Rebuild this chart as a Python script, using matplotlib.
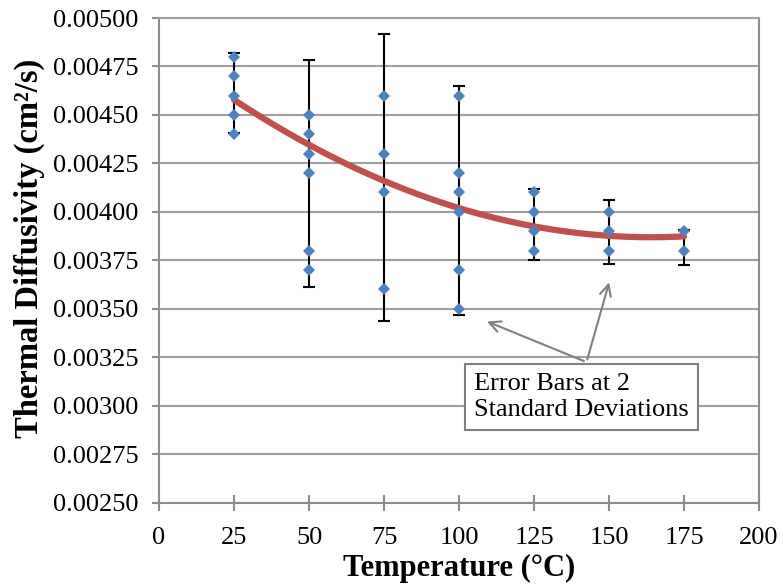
# %%
# Import packages
import numpy as np
import matplotlib
matplotlib.use("Agg")
import matplotlib.pyplot as plt
from matplotlib.ticker import FormatStrFormatter

# %%
# Measured diffusivity values (cm^2/s) at each temperature
temps_25 = [0.0048, 0.0047, 0.0046, 0.0045, 0.0044]
temps_50 = [0.0045, 0.0044, 0.0043, 0.0042, 0.0038, 0.0037]
temps_75 = [0.0046, 0.0043, 0.0041, 0.0036]
temps_100 = [0.0046, 0.0042, 0.0041, 0.0040, 0.0037, 0.0035]
temps_125 = [0.0041, 0.0040, 0.0039, 0.0038]
temps_150 = [0.0040, 0.0039, 0.0038]
temps_175 = [0.0039, 0.0038]

temperatures = [25, 50, 75, 100, 125, 150, 175]
measurements = [temps_25, temps_50, temps_75, temps_100, temps_125, temps_150, temps_175]

# Error bar centres and half-widths (2 standard deviations)
bar_means = [0.004613, 0.004197, 0.004177, 0.004058, 0.003934, 0.003897, 0.003817]
two_sd = [0.000207, 0.000586, 0.000740, 0.000592, 0.000184, 0.000164, 0.000089]

# Trendline values
trend_temps = [25, 50, 75, 100, 125, 150, 175]
trend_values = [0.004581, 0.004345, 0.004156, 0.004015, 0.003932, 0.003881, 0.003869]

# %%
# Flatten the points for the scatter
point_x = []
point_y = []
for t, vals in zip(temperatures, measurements):
    for v in vals:
        point_x.append(t)
        point_y.append(v)

# 2nd order polynomial trendline
coeffs = np.polyfit(trend_temps, trend_values, 2)
trend_x = np.linspace(25, 175, 200)
trend_y = np.polyval(coeffs, trend_x)

# %%
plt.rcParams["font.family"] = ["Liberation Serif", "DejaVu Serif"]

fig = plt.figure(figsize=(7.83, 5.87), dpi=100)
ax = fig.add_axes([159 / 783, 1 - 502.7 / 587, 600 / 783, 484.7 / 587])

grey = "#8c8c8c"

ax.errorbar(temperatures, bar_means, yerr=two_sd, fmt="none", ecolor="black",
            elinewidth=1.5, capsize=4.5, capthick=1.5, zorder=3)
ax.plot(trend_x, trend_y, color="#C0504D", linewidth=4.5, solid_capstyle="round", zorder=4)
ax.plot(point_x, point_y, linestyle="none", marker="D", markersize=6.5,
        color="#4F81BD", markeredgewidth=0, zorder=5)

ax.set_xlim(0, 200)
ax.set_ylim(0.0025, 0.005)
ax.set_xticks(np.arange(0, 201, 25))
ax.set_yticks(np.arange(0.0025, 0.00501, 0.00025))
ax.yaxis.set_major_formatter(FormatStrFormatter("%.5f"))

ax.yaxis.grid(True, color="#a0a0a0", linewidth=1.5)
ax.set_axisbelow(True)
for side in ["left", "bottom", "right", "top"]:
    ax.spines[side].set_color(grey)
    ax.spines[side].set_linewidth(1.5)
ax.spines["top"].set_color("#a0a0a0")

ax.tick_params(axis="y", direction="out", length=5, width=1.5, color=grey,
               labelsize=19, pad=10)
ax.tick_params(axis="x", direction="inout", length=11, width=1.5, color=grey,
               labelsize=19, pad=12)

fig.text(459 / 783, 1 - 568 / 587, "Temperature (°C)", ha="center", va="center",
         fontsize=22, fontweight="bold")
fig.text(29 / 783, 1 - 248 / 587, "Thermal Diffusivity (cm²/s)", ha="center",
         va="center", rotation=90, fontsize=23.5, fontweight="bold")

# %%
# Annotation with arrows pointing at error bars
arrow_style = dict(arrowstyle="->,head_length=0.8,head_width=0.4", color="#808080", lw=1.5)
ax.annotate("", xy=(108.5, 0.00344), xytext=(142.5, 0.003225), arrowprops=arrow_style)
ax.annotate("", xy=(150.3, 0.00365), xytext=(142.5, 0.003225), arrowprops=arrow_style)

ax.text(105.0, 0.003170, "Error Bars at 2\nStandard Deviations", ha="left", va="top",
        fontsize=19, linespacing=1.25, zorder=6,
        bbox=dict(boxstyle="square,pad=0.35", facecolor="white", edgecolor="#808080", linewidth=1.5))

fig.savefig("out.png", dpi=100)
